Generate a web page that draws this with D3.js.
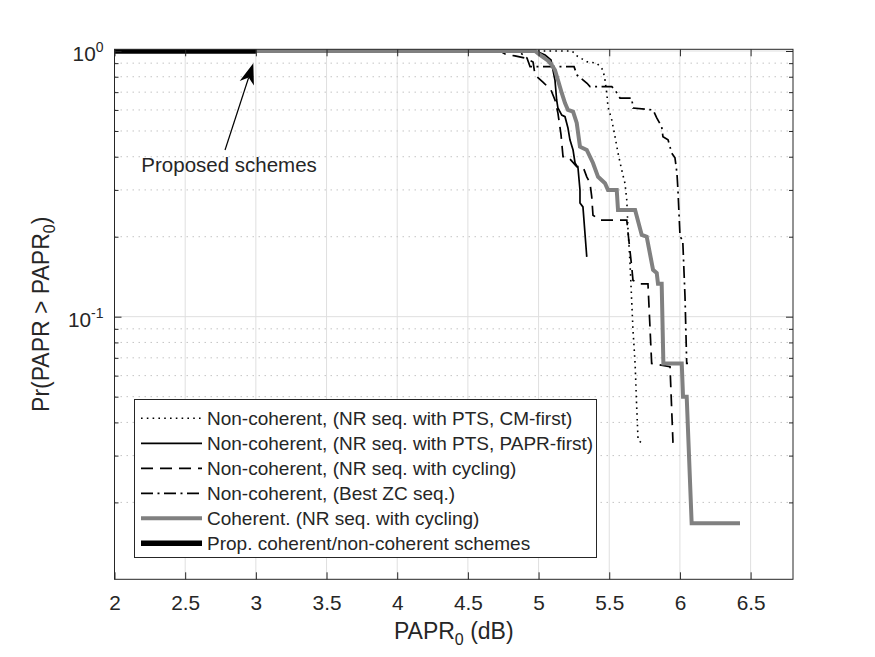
<!DOCTYPE html>
<html>
<head>
<meta charset="utf-8">
<script src="https://cdn.jsdelivr.net/npm/d3@7"></script>
<style>
body { margin: 0; background: #fff; }
text { font-family: "Liberation Sans", Arial, Helvetica, sans-serif; fill: #262626; }
</style>
</head>
<body>
<div id="chart"></div>
<script>
// tick values
var xTicks = [2, 2.5, 3, 3.5, 4, 4.5, 5, 5.5, 6, 6.5];
var yMajorTicks = [1, 0.1];
var yTickBase = ["10", "10"];
var yTickExp = ["0", "-1"];
var yMinorTicks = [0.02, 0.03, 0.04, 0.05, 0.06, 0.07, 0.08, 0.09,
                   0.2, 0.3, 0.4, 0.5, 0.6, 0.7, 0.8, 0.9];

var seriesNames = [
    "Non-coherent, (NR seq. with PTS, CM-first)",
    "Non-coherent, (NR seq. with PTS, PAPR-first)",
    "Non-coherent, (NR seq. with cycling)",
    "Non-coherent, (Best ZC seq.)",
    "Coherent. (NR seq. with cycling)",
    "Prop. coherent/non-coherent schemes"
];

// PAPR0 (dB) and Pr(PAPR > PAPR0)
var cmFirstX = [2, 5.237, 5.272, 5.343, 5.413, 5.456, 5.470, 5.484, 5.491, 5.518, 5.541, 5.562, 5.588, 5.612, 5.624, 5.633, 5.647, 5.668, 5.683, 5.694, 5.704, 5.730];
var cmFirstP = [1, 1, 0.958, 0.911, 0.899, 0.848, 0.778, 0.683, 0.617, 0.550, 0.476, 0.413, 0.357, 0.316, 0.275, 0.212, 0.159, 0.0891, 0.0667, 0.0459, 0.0343, 0.0335];

var paprFirstX = [2, 4.982, 5.046, 5.088, 5.102, 5.116, 5.128, 5.137, 5.164, 5.187, 5.208, 5.222, 5.244, 5.258, 5.279, 5.293, 5.293, 5.314, 5.341];
var paprFirstP = [1, 1, 0.966, 0.925, 0.848, 0.778, 0.654, 0.610, 0.574, 0.566, 0.513, 0.463, 0.424, 0.379, 0.363, 0.300, 0.268, 0.259, 0.168];

var cyclingX = [2, 4.727, 4.763, 4.833, 4.904, 4.961, 4.975, 5.031, 5.088, 5.116, 5.137, 5.159, 5.173, 5.208, 5.270, 5.314, 5.341, 5.364, 5.376, 5.385, 5.435, 5.624, 5.633, 5.659, 5.668, 5.718, 5.774, 5.800, 5.930, 5.951];
var cyclingP = [1, 1, 0.974, 0.958, 0.941, 0.909, 0.812, 0.764, 0.713, 0.654, 0.584, 0.483, 0.400, 0.400, 0.367, 0.367, 0.336, 0.318, 0.283, 0.241, 0.231, 0.231, 0.207, 0.154, 0.137, 0.133, 0.133, 0.0667, 0.0648, 0.0335];

var zcX = [2, 4.855, 4.918, 4.940, 5.251, 5.272, 5.343, 5.364, 5.518, 5.541, 5.576, 5.659, 5.668, 5.810, 5.836, 5.871, 5.880, 5.916, 5.942, 5.965, 5.979, 5.986, 6.001, 6.020, 6.036, 6.048, 6.057];
var zcP = [1, 1, 0.941, 0.873, 0.873, 0.812, 0.756, 0.734, 0.734, 0.713, 0.665, 0.665, 0.610, 0.600, 0.560, 0.519, 0.476, 0.463, 0.413, 0.396, 0.347, 0.300, 0.200, 0.194, 0.119, 0.0667, 0.0667];

var coherentX = [2, 4.975, 5.010, 5.067, 5.093, 5.116, 5.137, 5.164, 5.187, 5.208, 5.244, 5.270, 5.293, 5.341, 5.385, 5.421, 5.470, 5.491, 5.553, 5.562, 5.683, 5.730, 5.765, 5.810, 5.836, 5.845, 5.871, 5.883, 6.013, 6.022, 6.048, 6.083, 6.425];
var coherentP = [1, 1, 0.966, 0.919, 0.886, 0.848, 0.778, 0.695, 0.637, 0.600, 0.591, 0.536, 0.436, 0.424, 0.379, 0.336, 0.318, 0.300, 0.300, 0.252, 0.252, 0.203, 0.200, 0.150, 0.146, 0.133, 0.133, 0.0667, 0.0667, 0.050, 0.050, 0.0167, 0.0167];

var proposedX = [2, 3];
var proposedP = [1, 1];

var seriesX = [cmFirstX, paprFirstX, cyclingX, zcX, coherentX, proposedX];
var seriesP = [cmFirstP, paprFirstP, cyclingP, zcP, coherentP, proposedP];

// styles
var seriesColor = ["#000", "#000", "#000", "#000", "#808080", "#000"];
var seriesWidth = [1.6, 1.7, 1.7, 1.7, 4, 5.5];
var seriesDash = ["1.6,4.2", null, "12,7", "12,4.5,2,4.5", null, null];

var width = 875, height = 657;
var mLeft = 114.5, mRight = 793, mTop = 49.3, mBottom = 579.3;
var axisColor = "#262626";

var x = d3.scaleLinear().domain([2, 6.8]).range([mLeft, mRight]);
var y = d3.scaleLog().domain([0.01027, 1.0148]).range([mBottom, mTop]);

var svg = d3.select("#chart").append("svg")
    .attr("width", width)
    .attr("height", height);

svg.append("defs").append("clipPath").attr("id", "plotclip")
    .append("rect")
    .attr("x", mLeft).attr("y", mTop)
    .attr("width", mRight - mLeft).attr("height", mBottom - mTop);

// grid
var grid = svg.append("g");
grid.selectAll("line.xg").data(xTicks).enter().append("line")
    .attr("x1", function (d) { return x(d); })
    .attr("x2", function (d) { return x(d); })
    .attr("y1", mTop).attr("y2", mBottom)
    .attr("stroke", "#dfdfdf").attr("stroke-width", 1);
grid.selectAll("line.ymg").data(yMinorTicks).enter().append("line")
    .attr("x1", mLeft).attr("x2", mRight)
    .attr("y1", function (d) { return y(d); })
    .attr("y2", function (d) { return y(d); })
    .attr("stroke", "#c4c4c4").attr("stroke-width", 1)
    .attr("stroke-dasharray", "1.5,4.5");
grid.selectAll("line.yg").data(yMajorTicks).enter().append("line")
    .attr("x1", mLeft).attr("x2", mRight)
    .attr("y1", function (d) { return y(d); })
    .attr("y2", function (d) { return y(d); })
    .attr("stroke", "#dfdfdf").attr("stroke-width", 1);

// curves
var line = d3.line()
    .x(function (d) { return x(d[0]); })
    .y(function (d) { return y(d[1]); });

var curves = svg.append("g").attr("clip-path", "url(#plotclip)");
seriesX.forEach(function (xs, i) {
    var pts = xs.map(function (v, j) { return [v, seriesP[i][j]]; });
    curves.append("path")
        .attr("d", line(pts))
        .attr("fill", "none")
        .attr("stroke", seriesColor[i])
        .attr("stroke-width", seriesWidth[i])
        .attr("stroke-dasharray", seriesDash[i]);
});

// axes
var gx = svg.append("g").attr("transform", "translate(0," + mBottom + ")")
    .call(d3.axisBottom(x).tickValues(xTicks).tickSizeInner(-7).tickSizeOuter(0)
        .tickPadding(16).tickFormat(function (d) { return d; }));
gx.selectAll("text").style("font-size", "20.8px").attr("fill", axisColor);
svg.append("g").attr("transform", "translate(0," + mTop + ")")
    .call(d3.axisTop(x).tickValues(xTicks).tickSizeInner(-7).tickSizeOuter(0).tickFormat(""));
svg.append("g").attr("transform", "translate(" + mLeft + ",0)")
    .call(d3.axisLeft(y).tickValues(yMajorTicks).tickSizeInner(-7).tickSizeOuter(0).tickFormat(""));
svg.append("g").attr("transform", "translate(" + mLeft + ",0)")
    .call(d3.axisLeft(y).tickValues(yMinorTicks).tickSizeInner(-4).tickSizeOuter(0).tickFormat(""));
svg.append("g").attr("transform", "translate(" + mRight + ",0)")
    .call(d3.axisRight(y).tickValues(yMajorTicks).tickSizeInner(-7).tickSizeOuter(0).tickFormat(""));
svg.append("g").attr("transform", "translate(" + mRight + ",0)")
    .call(d3.axisRight(y).tickValues(yMinorTicks).tickSizeInner(-4).tickSizeOuter(0).tickFormat(""));
svg.selectAll(".domain").remove();
svg.selectAll(".tick line").attr("stroke", axisColor);

svg.append("rect")
    .attr("x", mLeft).attr("y", mTop)
    .attr("width", mRight - mLeft).attr("height", mBottom - mTop)
    .attr("fill", "none").attr("stroke", axisColor).attr("stroke-width", 1);

// y tick labels 10^n
yMajorTicks.forEach(function (v, i) {
    var t = svg.append("text")
        .attr("x", mLeft - 11)
        .attr("y", y(v) + 10.5)
        .attr("text-anchor", "end")
        .style("font-size", "20.8px");
    t.append("tspan").text(yTickBase[i]);
    t.append("tspan").attr("dy", -9).style("font-size", "14px").text(yTickExp[i]);
});

// axis labels
var xl = svg.append("text")
    .attr("x", (mLeft + mRight) / 2)
    .attr("y", 639)
    .attr("text-anchor", "middle")
    .style("font-size", "23px");
xl.append("tspan").text("PAPR");
xl.append("tspan").attr("dy", 6).style("font-size", "16px").text("0");
xl.append("tspan").attr("dy", -6).text(" (dB)");

var yl = svg.append("text")
    .attr("transform", "translate(49," + (mTop + mBottom) / 2 + ") rotate(-90)")
    .attr("text-anchor", "middle")
    .style("font-size", "23px");
yl.append("tspan").text("Pr(PAPR > PAPR");
yl.append("tspan").attr("dy", 6).style("font-size", "16px").text("0");
yl.append("tspan").attr("dy", -6).text(")");

// annotation arrow
var tail = [x(2.782), y(0.424)];
var tip = [x(2.982), y(0.899)];
var dx = tip[0] - tail[0], dy = tip[1] - tail[1];
var len = Math.sqrt(dx * dx + dy * dy);
var ux = dx / len, uy = dy / len;
var px = -uy, py = ux;
var headLen = 21, headHalf = 7.5, notch = 15;
var bx = tip[0] - headLen * ux, by = tip[1] - headLen * uy;
svg.append("line")
    .attr("x1", tail[0]).attr("y1", tail[1])
    .attr("x2", tip[0] - notch * ux).attr("y2", tip[1] - notch * uy)
    .attr("stroke", "#000").attr("stroke-width", 1.2);
svg.append("path")
    .attr("d", "M" + tip[0] + "," + tip[1] +
        "L" + (bx + headHalf * px) + "," + (by + headHalf * py) +
        "L" + (tip[0] - notch * ux) + "," + (tip[1] - notch * uy) +
        "L" + (bx - headHalf * px) + "," + (by - headHalf * py) + "Z")
    .attr("fill", "#000");
svg.append("text")
    .attr("x", x(2.19))
    .attr("y", y(0.350))
    .style("font-size", "20.5px")
    .attr("fill", "#000")
    .text("Proposed schemes");

// legend
var lg = svg.append("g");
lg.append("rect")
    .attr("x", 134.5).attr("y", 399.5)
    .attr("width", 462).attr("height", 158)
    .attr("fill", "#fff").attr("stroke", axisColor).attr("stroke-width", 1);
seriesNames.forEach(function (name, i) {
    var cy = 418.3 + i * 25;
    lg.append("line")
        .attr("x1", 141).attr("x2", 202)
        .attr("y1", cy).attr("y2", cy)
        .attr("stroke", seriesColor[i])
        .attr("stroke-width", seriesWidth[i])
        .attr("stroke-dasharray", seriesDash[i]);
    lg.append("text")
        .attr("x", 207).attr("y", cy)
        .attr("dy", "0.35em")
        .style("font-size", "19px")
        .attr("fill", "#000")
        .text(name);
});
</script>
</body>
</html>
